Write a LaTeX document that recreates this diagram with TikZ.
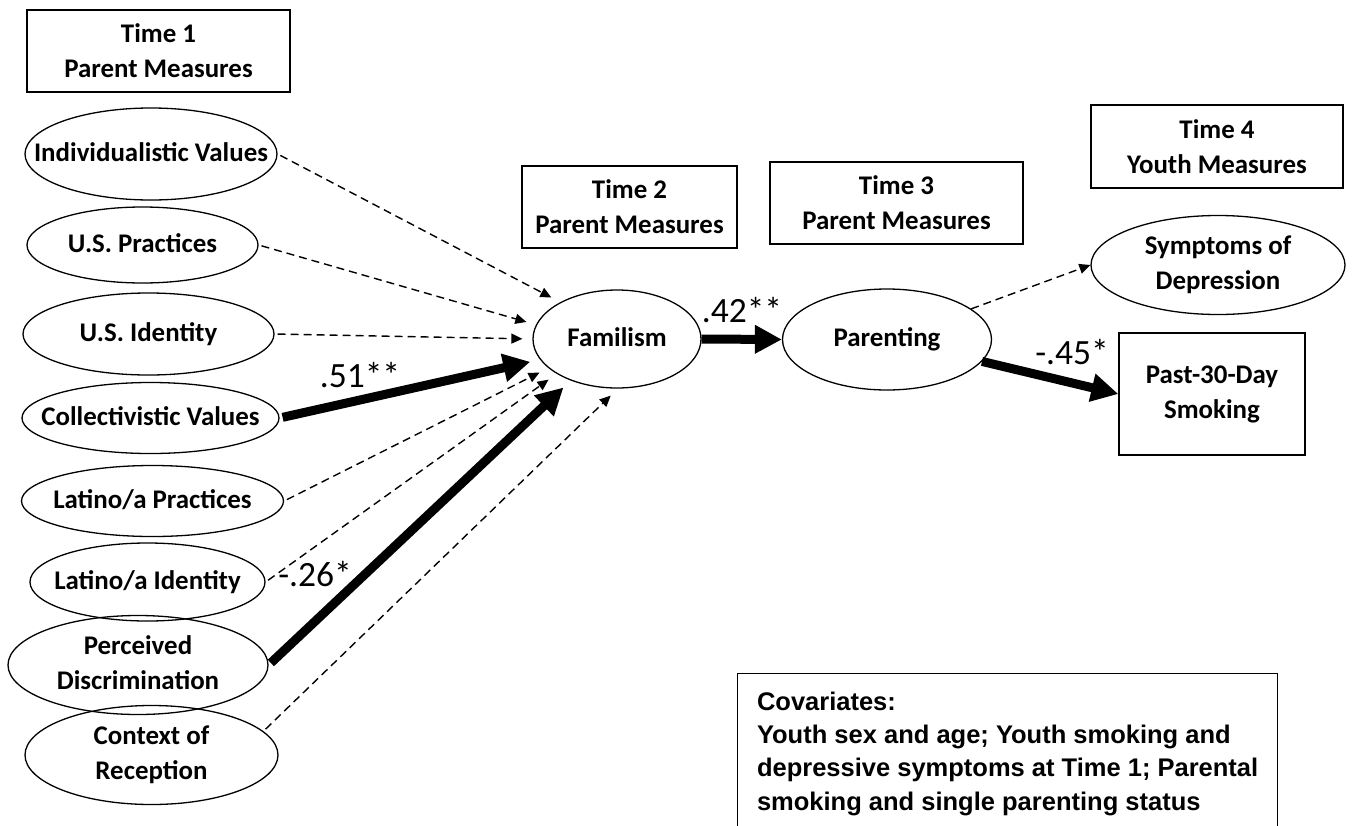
\documentclass[tikz,border=0pt]{standalone}
\usepackage{fontspec}
\setmainfont{Carlito}
\newfontfamily\covfont{Liberation Sans}
\usepackage{tikz}
\usetikzlibrary{shapes.geometric,arrows.meta,positioning}
\newcommand{\onebox}[1]{\makebox[0pt]{\begin{tabular}{@{}c@{}}#1\end{tabular}}}

\begin{document}
\begin{tikzpicture}[x=1pt,y=-1pt]
			\tikzstyle{Latent}	= [ellipse, draw, line width=1.3pt, inner sep=0pt, font=\fontsize{26.9}{35}\selectfont\bfseries]
			\tikzstyle{Wave}	= [rectangle, draw, line width=1.3pt, inner sep=0pt, align=center, font=\fontsize{26.9}{35}\selectfont\bfseries]
			\tikzstyle{NS}		= [-{Triangle[length=11pt,width=10pt]}, line width=1.4pt, dash pattern=on 8pt off 5pt]
			\tikzstyle{Sig}		= [-{Triangle[length=27pt,width=27pt]}, line width=9pt]
			\tikzstyle{Gap}		= [shorten >=10pt, shorten <=3pt]
			\tikzstyle{Coef}	= [inner sep=0pt, font=\fontsize{35.5}{40}\selectfont]

			\path[use as bounding box] (0,0) rectangle (1352,825);
			\clip (0,0) rectangle (1352,825);

			% time labels
			\node (t1) at (158.5,51) [Wave, minimum width=263pt, minimum height=82pt] {Time 1\\Parent Measures};
			\node (t2) at (629.5,207) [Wave, minimum width=215pt, minimum height=82pt] {Time 2\\Parent Measures};
			\node (t3) at (896.5,203) [Wave, minimum width=253pt, minimum height=82pt] {Time 3\\Parent Measures};
			\node (t4) at (1217,146.5) [Wave, minimum width=252pt, minimum height=83pt] {Time 4\\Youth Measures};

			% time 1 predictors
			\node (ind) at (151,154) [Latent, minimum width=252pt, minimum height=92pt] {\onebox{Individualistic Values}};
			\node (usp) at (142.5,245) [Latent, minimum width=231pt, minimum height=76pt] {\onebox{U.S. Practices}};
			\node (usi) at (148.5,334) [Latent, minimum width=251pt, minimum height=82pt] {\onebox{U.S. Identity}};
			\node (col) at (150.5,418) [Latent, minimum width=257pt, minimum height=71pt] {\onebox{Collectivistic Values}};
			\node (lap) at (152.5,501) [Latent, minimum width=262pt, minimum height=71pt] {\onebox{Latino/a Practices}};
			\node (lai) at (147.5,582) [Latent, minimum width=235pt, minimum height=78pt] {\onebox{Latino/a Identity}};
			\node (per) at (138,665) [Latent, minimum width=260pt, minimum height=88pt] {\onebox{Perceived\\Discrimination}};
			\node (ctx) at (151.5,755) [Latent, minimum width=253pt, minimum height=82pt] {\onebox{Context of\\Reception}};

			% mediators and outcomes
			\node (fam) at (617,339) [Latent, minimum width=168pt, minimum height=98pt] {\onebox{Familism}};
			\node (par) at (887,339.5) [Latent, minimum width=209pt, minimum height=101pt] {\onebox{Parenting}};
			\node (sym) at (1218,265) [Latent, minimum width=254pt, minimum height=96pt] {\onebox{Symptoms of\\Depression}};
			\node (smk) at (1212,394) [Wave, minimum width=186pt, minimum height=122pt] {Past-30-Day\\Smoking};

			\node (cov) at (737,673) [anchor=north west, draw, line width=1.3pt, minimum width=540pt, align=left, inner xsep=13pt, inner ysep=18pt, font=\covfont\fontsize{25.5}{33.3}\selectfont\bfseries]
				{Covariates:\\Youth sex and age; Youth smoking and\\depressive symptoms at Time 1; Parental\\smoking and single parenting status};

			% coefficients
			\node (cCol) at (360,375) [Coef] {.51**};
			\node (cFam) at (742,310) [Coef] {.42**};
			\node (cPar) at (1072,352) [Coef] {-.45*};
			\node (cPer) at (315,574) [Coef] {-.26*};

			\draw [NS, Gap] (ind.east) to (fam.147);
			\draw [NS, Gap] (usp.east) to (fam.170);
			\draw [NS, Gap] (usi.east) to (fam.180);
			\draw [Sig, Gap] (col.east) to (fam.195);
			\draw [NS, Gap] (lap.east) to (fam.203);
			\draw [NS, Gap] (lai.east) to (fam.210);
			\draw [Sig, Gap] (per.east) to (fam.222);
			\draw [NS, Gap] (ctx.12) to (fam.271);
			\draw [Sig] (fam.east) to (par.west);
			\draw [NS] (par.20) to (sym.west);
			\draw [Sig] (par.-13) to (smk.west);
		\end{tikzpicture}
\end{document}
